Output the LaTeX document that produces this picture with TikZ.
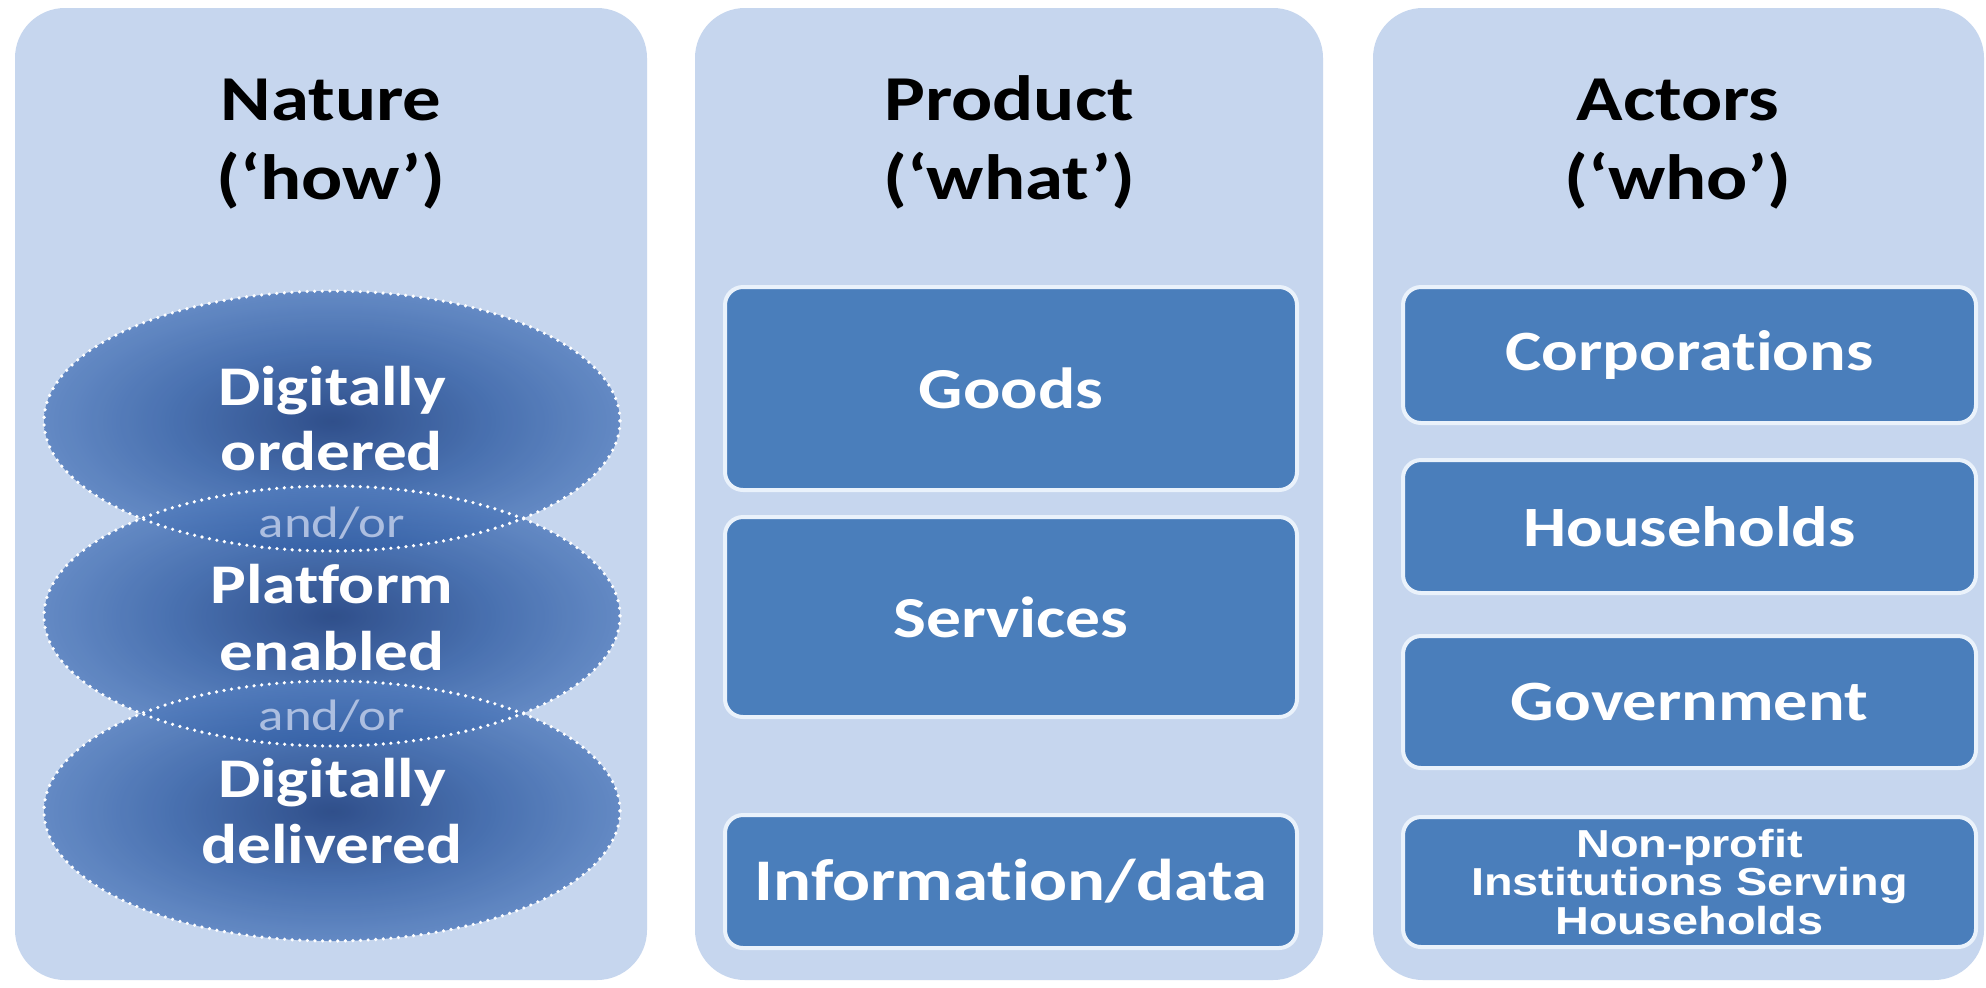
\documentclass[tikz,border=0pt]{standalone}
\usepackage{fontspec}
\newfontfamily\calfont[FakeStretch=1.2, Ligatures={NoCommon}]{Carlito}
\newfontfamily\arifont[FakeStretch=1.2, Ligatures={NoCommon}]{Liberation Sans}
\usetikzlibrary{shapes.geometric}
\definecolor{panelblue}{RGB}{198,214,238}
\definecolor{boxblue}{RGB}{74,126,187}
\definecolor{boxedge}{RGB}{234,242,251}
\definecolor{andor}{RGB}{172,190,224}
\definecolor{ellA}{RGB}{22,56,122}
\definecolor{ellB}{RGB}{52,96,166}
\definecolor{ellC}{RGB}{108,148,208}
\definecolor{ellD}{RGB}{176,198,233}
\pgfdeclareradialshading{ellshade}{\pgfpoint{0bp}{0bp}}{color(0bp)=(ellA); color(14bp)=(ellB); color(34bp)=(ellC); color(50bp)=(ellD)}
\begin{document}
\begin{tikzpicture}[x=0.5pt,y=-0.5pt,
  panel/.style={fill=panelblue, rounded corners=25pt},
  catbox/.style={fill=boxblue, draw=boxedge, line width=2pt, rounded corners=9pt,
    inner sep=0pt, text=white, font=\calfont\bfseries\fontsize{28.5}{30}\selectfont, align=center},
  title/.style={anchor=base, text=black, inner sep=0pt, font=\calfont\bfseries\fontsize{32}{40}\selectfont},
  elltext/.style={anchor=base, text=white, inner sep=0pt, font=\calfont\bfseries\fontsize{28}{30}\selectfont},
  andortext/.style={anchor=base, text=andor, inner sep=0pt, font=\calfont\fontsize{22}{24}\selectfont},
  ellnode/.style={ellipse, minimum width=288pt, minimum height=130pt, inner sep=0pt,
    shading=ellshade, fill opacity=0.85},
  dotborder/.style={draw=white, line width=1.8pt, dash pattern=on 0pt off 3.8pt, line cap=round}
]
\useasboundingbox (0,0) rectangle (1986,987);
\fill[white] (0,0) rectangle (1986,987);

% panels
\path[panel] (15,8) rectangle (647,980);
\path[panel] (695,8) rectangle (1323,980);
\path[panel] (1373,8) rectangle (1984,980);

% titles
\node[title] (t1a) at (331,120) {Nature};
\node[title] (t1b) at (331,199) {(‘how’)};
\node[title] (t2a) at (1009,120) {Product};
\node[title] (t2b) at (1009,199) {(‘what’)};
\node[title] (t3a) at (1678,120) {Actors};
\node[title] (t3b) at (1678,199) {(‘who’)};

% ellipses
\node[ellnode] (e1) at (332,421) {};
\node[ellnode] (e2) at (332,616) {};
\node[ellnode] (e3) at (332,811) {};
\draw[dotborder] (e1.center) ellipse [x radius=288, y radius=130];
\draw[dotborder] (e2.center) ellipse [x radius=288, y radius=130];
\draw[dotborder] (e3.center) ellipse [x radius=288, y radius=130];

\node[elltext] (n1a) at (332,405) {Digitally};
\node[elltext] (n1b) at (332,470) {ordered};
\node[andortext] (o1) at (332,537) {and/or};
\node[elltext] (n2a) at (332,603) {Platform};
\node[elltext] (n2b) at (332,670) {enabled};
\node[andortext] (o2) at (332,730) {and/or};
\node[elltext] (n3a) at (332,797) {Digitally};
\node[elltext] (n3b) at (332,863) {delivered};

% product boxes
\node[catbox, minimum width=286pt, minimum height=101.5pt, font=\calfont\bfseries\fontsize{29}{30}\selectfont] (goods) at (1011,388.5) {Goods};
\node[catbox, minimum width=286pt, minimum height=100pt, font=\calfont\bfseries\fontsize{29}{30}\selectfont] (services) at (1011,617) {Services};
\node[catbox, minimum width=286pt, minimum height=66.5pt, font=\calfont\bfseries\fontsize{29.5}{30}\selectfont] (info) at (1011,881.5) {Information/data};

% actor boxes
\node[catbox, minimum width=286.5pt, minimum height=68pt] (corp) at (1689.5,355) {Corporations};
\node[catbox, minimum width=286.5pt, minimum height=66.5pt] (house) at (1689.5,526.5) {Households};
\node[catbox, minimum width=286.5pt, minimum height=66pt] (gov) at (1689.5,702) {Government};
\node[catbox, minimum width=286.5pt, minimum height=65pt, font=\arifont\bfseries\fontsize{19.5}{17.5}\selectfont] (npish) at (1689.5,882) {Non-profit\\Institutions Serving\\Households};
\end{tikzpicture}
\end{document}
